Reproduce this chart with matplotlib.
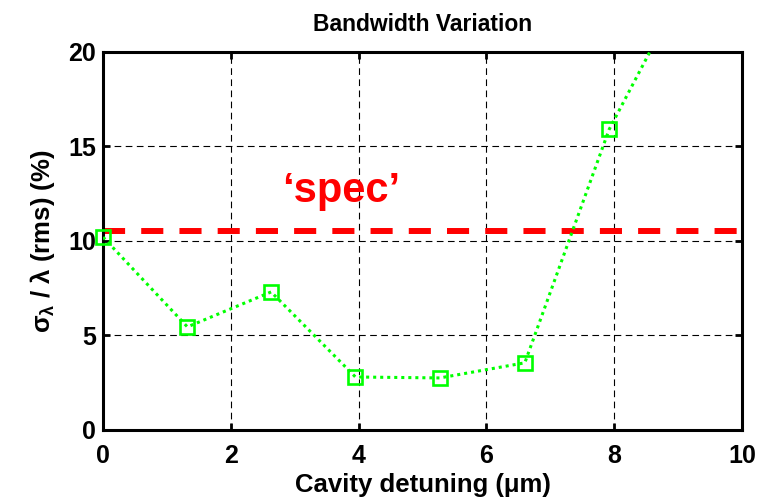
import matplotlib
matplotlib.use("Agg")
import matplotlib.pyplot as plt
import numpy as np

# Данные
detuning = [0.0, 1.32, 2.63, 3.95, 5.27, 6.60, 7.92, 9.24]
bandwidth = [10.2, 5.45, 7.3, 2.8, 2.75, 3.55, 15.9, 24.4]
spec_level = 10.5
x_ticks = [0, 2, 4, 6, 8, 10]
y_ticks = [0, 5, 10, 15, 20]

plt.rcParams['font.family'] = ['Liberation Sans', 'DejaVu Sans']
plt.rcParams['font.weight'] = 'bold'
plt.rcParams['mathtext.fontset'] = 'custom'
plt.rcParams['mathtext.rm'] = 'Liberation Sans:bold'
plt.rcParams['mathtext.it'] = 'Liberation Sans:bold'
plt.rcParams['mathtext.bf'] = 'Liberation Sans:bold'

green = '#00ff00'

fig = plt.figure(figsize=(7.69, 5.04), dpi=100)
ax = fig.add_axes([0.134, 0.147, 0.831, 0.75])

# Линия с точками
ax.plot(detuning, bandwidth, color=green, lw=2.2, dashes=(1, 1.3), zorder=3)
x = np.array(detuning)
y = np.array(bandwidth)
visible = y <= 20
ax.plot(x[visible], y[visible], linestyle='none', marker='s', ms=10,
        mfc='none', mec=green, mew=1.9, clip_on=False, zorder=4)

# Уровень 'spec'
ax.axhline(spec_level, color='#ff0000', lw=4.3, dashes=(3.7, 2.7), zorder=2)
ax.text(3.72, 12.05, '\u2018spec\u2019', color='#ff0000', fontsize=30,
        fontweight='bold', ha='center', va='baseline')

ax.set_xlim(0, 10)
ax.set_ylim(0, 20)
ax.set_xticks(x_ticks)
ax.set_yticks(y_ticks)
ax.grid(True, color='black', lw=0.8, dashes=(6, 4))
ax.set_axisbelow(True)

for s in ax.spines.values():
    s.set_linewidth(2.2)
ax.tick_params(direction='in', length=5, width=2, top=True, right=True,
               labelsize=18)
ax.tick_params(axis='x', pad=10)
ax.tick_params(axis='y', pad=5)

ax.set_title('Bandwidth Variation', fontsize=16.5, fontweight='bold', pad=15)
ax.set_xlabel('Cavity detuning (\u03bcm)', fontsize=18.5, fontweight='bold', labelpad=4)
ax.set_ylabel('$\\sigma_{\\lambda}$ / \u03bb (rms) (%)',
              fontsize=18.5, fontweight='bold', labelpad=8)

plt.savefig('out.png', dpi=100)
plt.close()
